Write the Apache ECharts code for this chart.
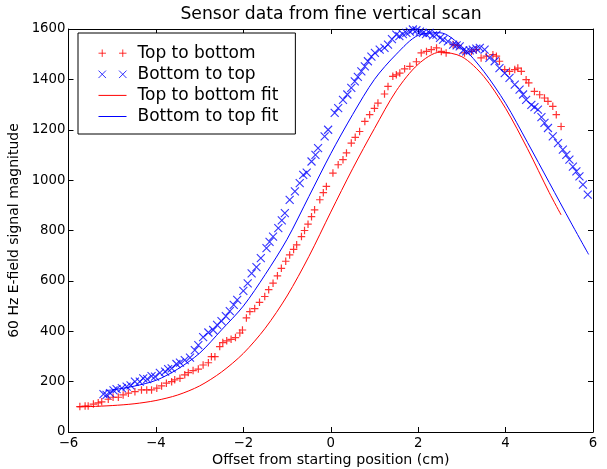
<!DOCTYPE html>
<html><head><meta charset="utf-8">
<script src="https://cdn.jsdelivr.net/npm/echarts@6/dist/echarts.min.js"></script>
<style>html,body{margin:0;padding:0;background:#fff}#c{width:607px;height:469px}</style>
</head><body><div id="c"></div>
<script>
// Top to bottom scan (red +)
const t2bX = [-5.74,-5.62,-5.55,-5.43,-5.32,-5.24,-5.09,-4.98,-4.86,-4.75,-4.63,-4.48,-4.33,-4.21,-4.10,-3.98,-3.87,-3.76,-3.64,-3.57,-3.45,-3.34,-3.26,-3.15,-3.03,-2.92,-2.80,-2.73,-2.65,-2.54,-2.47,-2.38,-2.28,-2.18,-2.08,-2.02,-1.93,-1.85,-1.74,-1.63,-1.51,-1.42,-1.32,-1.22,-1.13,-1.03,-0.94,-0.85,-0.78,-0.67,-0.60,-0.52,-0.44,-0.37,-0.25,-0.17,-0.10,0.05,0.17,0.28,0.36,0.47,0.56,0.66,0.78,0.89,1.00,1.08,1.23,1.31,1.42,1.50,1.58,1.69,1.81,1.96,2.07,2.19,2.30,2.42,2.53,2.64,2.80,2.91,3.06,3.22,3.33,3.44,3.56,3.71,3.79,3.86,3.98,4.09,4.21,4.28,4.36,4.47,4.53,4.66,4.78,4.89,4.97,5.08,5.16,5.27];
const t2bY = [101,103,103,111,116,120,130,138,138,147,154,160,167,167,167,174,183,194,200,207,213,227,236,244,250,266,275,299,299,339,355,362,368,375,393,405,453,478,490,515,538,565,591,620,650,678,703,725,743,776,800,825,855,882,922,950,975,1028,1061,1081,1108,1147,1170,1193,1233,1260,1285,1306,1342,1372,1412,1418,1425,1442,1452,1470,1505,1511,1518,1525,1511,1505,1538,1534,1505,1511,1518,1485,1492,1498,1492,1472,1439,1432,1439,1445,1432,1399,1386,1352,1339,1326,1313,1293,1260,1213];
// Bottom to top scan (blue x)
const b2tX = [-5.20,-5.13,-5.05,-4.97,-4.90,-4.78,-4.67,-4.58,-4.48,-4.37,-4.29,-4.20,-4.10,-4.02,-3.91,-3.79,-3.72,-3.64,-3.53,-3.45,-3.34,-3.22,-3.11,-3.03,-2.92,-2.80,-2.69,-2.60,-2.50,-2.40,-2.31,-2.22,-2.14,-2.00,-1.90,-1.81,-1.70,-1.60,-1.47,-1.40,-1.32,-1.20,-1.12,-1.05,-0.94,-0.82,-0.71,-0.63,-0.55,-0.44,-0.35,-0.29,-0.14,-0.06,0.09,0.17,0.28,0.38,0.47,0.55,0.62,0.70,0.78,0.85,0.93,1.01,1.12,1.23,1.31,1.40,1.50,1.57,1.65,1.73,1.81,1.88,1.96,2.04,2.11,2.18,2.26,2.34,2.42,2.50,2.57,2.68,2.80,2.88,2.95,3.03,3.10,3.18,3.25,3.33,3.41,3.52,3.63,3.75,3.86,3.98,4.09,4.21,4.32,4.40,4.47,4.59,4.66,4.74,4.82,4.89,4.97,5.08,5.20,5.31,5.39,5.46,5.54,5.62,5.69,5.77,5.88];
const b2tY = [150,147,154,165,170,174,180,185,200,200,213,210,222,220,235,240,250,253,270,275,285,295,325,345,377,395,405,425,440,460,480,505,525,560,590,630,655,690,730,755,776,809,840,869,922,955,988,1021,1030,1074,1100,1127,1174,1200,1267,1286,1319,1340,1366,1392,1410,1432,1452,1472,1490,1505,1518,1525,1538,1560,1578,1572,1580,1585,1590,1598,1595,1590,1585,1580,1585,1575,1578,1565,1558,1551,1538,1535,1531,1515,1511,1515,1518,1522,1525,1518,1485,1472,1445,1425,1406,1379,1359,1340,1319,1299,1290,1280,1250,1227,1207,1174,1147,1121,1100,1081,1054,1035,1015,982,942];
// Fit curves
const t2bFitX = [-5.8,-5.5,-5.0,-4.5,-4.0,-3.5,-3.0,-2.5,-2.0,-1.5,-1.0,-0.5,0.0,0.5,1.0,1.5,2.0,2.5,3.0,3.5,4.0,4.5,5.0,5.27];
const t2bFitY = [100,101,105,112,125,147,183,238,312,412,540,697,873,1045,1205,1355,1460,1508,1490,1412,1285,1125,950,862];
const b2tFitX = [-5.15,-5.0,-4.5,-4.0,-3.5,-3.0,-2.5,-2.0,-1.5,-1.0,-0.5,0.0,0.5,1.0,1.5,2.0,2.5,3.0,3.5,4.0,4.5,5.0,5.5,5.9];
const b2tFitY = [165,167,182,205,250,313,405,500,625,765,935,1105,1260,1400,1500,1575,1585,1530,1432,1305,1150,990,830,705];
// Axes
const xTicks = [-6,-4,-2,0,2,4,6];
const yTicks = [0,200,400,600,800,1000,1200,1400,1600];

const zip = (a,b) => a.map((v,i)=>[v,b[i]]);
const FONT = 'DejaVu Sans';
const plusPath = 'path://M0,5L10,5M5,0L5,10';
const crossPath = 'path://M0,0L10,10M10,0L0,10';
const minusFmt = v => String(v).replace('-', '\u2212');
const plainFmt = v => String(v);

const baseX = {
  type:'value', min:xTicks[0], max:xTicks[xTicks.length-1], interval:2,
  axisLine:{show:true, onZero:false, lineStyle:{color:'#000', width:1}},
  axisTick:{show:true, inside:true, length:5, lineStyle:{color:'#000'}},
  splitLine:{show:false}
};
const baseY = {
  type:'value', min:yTicks[0], max:yTicks[yTicks.length-1], interval:200,
  axisLine:{show:true, onZero:false, lineStyle:{color:'#000', width:1}},
  axisTick:{show:true, inside:true, length:5, lineStyle:{color:'#000'}},
  splitLine:{show:false}
};
const lineIcon = 'path://M0,5L30,5M0,0L0,0M30,10L30,10';

const chart = echarts.init(document.getElementById('c'), null, {renderer:'canvas'});
chart.setOption({
  animation:false,
  backgroundColor:'#fff',
  textStyle:{fontFamily:FONT},
  title:{
    text:'Sensor data from fine vertical scan', left:331, top:6, textAlign:'center', padding:0,
    textStyle:{fontFamily:FONT, fontSize:17.2, fontWeight:'normal', color:'#000'}
  },
  grid:{left:68.5, right:14, top:29, bottom:37, containLabel:false, outerBoundsMode:'none'},
  legend:{
    orient:'vertical', left:78, top:33,
    padding:[11.7,17,9,20], itemGap:4.1, itemWidth:28, itemHeight:10,
    borderColor:'#000', borderWidth:1, borderRadius:0, backgroundColor:'#fff',
    textStyle:{fontFamily:FONT, fontSize:17, color:'#000', padding:[0,0,0,6]},
    data:[
      {name:'Top to bottom', icon:'path://M0,4L8,4M4,0L4,8M22,4L30,4M26,0L26,8', itemStyle:{color:'rgba(0,0,0,0)', borderColor:'#ff0000', borderWidth:1}},
      {name:'Bottom to top', icon:'path://M0,0L8,8M8,0L0,8M22,0L30,8M30,0L22,8', itemStyle:{color:'rgba(0,0,0,0)', borderColor:'#0000ff', borderWidth:1}},
      {name:'Top to bottom fit', icon:lineIcon, itemStyle:{color:'rgba(0,0,0,0)', borderColor:'#ff0000', borderWidth:1}},
      {name:'Bottom to top fit', icon:lineIcon, itemStyle:{color:'rgba(0,0,0,0)', borderColor:'#0000ff', borderWidth:1}}
    ]
  },
  xAxis:[
    Object.assign({}, baseX, {
      position:'bottom',
      name:'Offset from starting position (cm)', nameLocation:'middle', nameGap:21, nameMoveOverlap:false,
      nameTextStyle:{fontFamily:FONT, fontSize:14.2, color:'#000'},
      axisLabel:{show:true, margin:5, fontFamily:FONT, fontSize:13.3, color:'#000', formatter:minusFmt}
    }),
    Object.assign({}, baseX, {position:'top', axisLabel:{show:false}})
  ],
  yAxis:[
    Object.assign({}, baseY, {
      position:'left',
      name:'60 Hz E-field signal magnitude', nameLocation:'middle', nameGap:47, nameRotate:90, nameMoveOverlap:false,
      nameTextStyle:{fontFamily:FONT, fontSize:14, color:'#000'},
      axisLabel:{show:true, margin:3, fontFamily:FONT, fontSize:13.3, color:'#000', formatter:plainFmt}
    }),
    Object.assign({}, baseY, {position:'right', axisLabel:{show:false}})
  ],
  series:[
    {type:'scatter', name:'Top to bottom', data:zip(t2bX,t2bY), symbol:plusPath, symbolSize:7.5,
     itemStyle:{color:'rgba(0,0,0,0)', borderColor:'#ff0000', borderWidth:1.2}, z:2},
    {type:'scatter', name:'Bottom to top', data:zip(b2tX,b2tY), symbol:crossPath, symbolSize:8,
     itemStyle:{color:'rgba(0,0,0,0)', borderColor:'#0000ff', borderWidth:1.1}, z:3},
    {type:'line', name:'Top to bottom fit', data:zip(t2bFitX,t2bFitY), smooth:0.3, showSymbol:false, symbol:'none',
     lineStyle:{color:'#ff0000', width:1}, itemStyle:{color:'#ff0000'}, z:4},
    {type:'line', name:'Bottom to top fit', data:zip(b2tFitX,b2tFitY), smooth:0.3, showSymbol:false, symbol:'none',
     lineStyle:{color:'#0000ff', width:1}, itemStyle:{color:'#0000ff'}, z:5}
  ]
});
</script>
</body></html>
